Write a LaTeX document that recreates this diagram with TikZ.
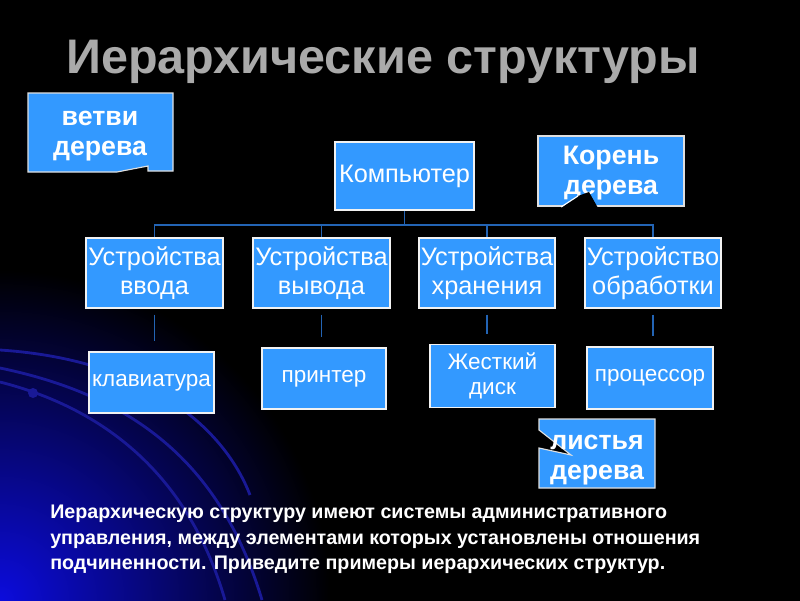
\documentclass[tikz,border=0pt]{standalone}
\usepackage{fontspec}
\setmainfont{Liberation Sans}
\usetikzlibrary{positioning,calc}
\definecolor{boxblue}{RGB}{51,153,255}
\definecolor{linkblue}{RGB}{35,100,180}
\definecolor{titlegray}{RGB}{170,170,170}
\definecolor{glowblue}{RGB}{12,12,220}
\definecolor{arcblue}{RGB}{25,25,150}
\newcommand{\pxu}{0.025cm}
\tikzset{
    chartbox/.style={draw=white!90!gray, line width=1.3pt, fill=boxblue, text=white,
        align=center, inner sep=1pt, font=\fontsize{18}{20.5}\selectfont},
    leafbox/.style={chartbox, font=\fontsize{16}{18}\selectfont},
    link/.style={draw=linkblue, line width=1.4pt},
    twig/.style={link, shorten <=4pt, shorten >=7pt},
    callout/.style={fill=boxblue, draw=white!75!gray, line width=0.8pt},
    callout text/.style={text=white, align=center, font=\bfseries\fontsize{19}{21.5}\selectfont}
}

\begin{document}
\begin{tikzpicture}[x=0.025cm,y=-0.025cm]
    \useasboundingbox (0,0) rectangle (800,600);

    % Background with the blue glow.
    \fill[black] (-5,-5) rectangle (805,605);
    \begin{scope}
        \clip (0,0) rectangle (800,600);
        \shade[inner color=glowblue, outer color=black] (0,600) circle (330);
        \draw[arcblue, line width=2pt] (0,350) .. controls (150,360) and (225,430) .. (250,495);
        \draw[arcblue, line width=2pt] (0,368) .. controls (130,395) and (220,460) .. (262,600);
        \draw[arcblue, line width=2pt] (0,382) .. controls (110,410) and (190,480) .. (225,600);
        \fill[arcblue] (33,393) circle (5);
    \end{scope}

    % Title.
    \node[text=titlegray, font=\bfseries\fontsize{34.5}{38}\selectfont] (title) at (383,62) {Иерархические структуры};

    % Tree nodes.
    \node[chartbox, minimum width=139*\pxu, minimum height=68*\pxu] (comp) at (404.5,176) {Компьютер};

    \node[chartbox, minimum width=137*\pxu, minimum height=70*\pxu] (in) at (154.5,273) {Устройства\\ввода};
    \node[chartbox, minimum width=137*\pxu, minimum height=70*\pxu] (out) at (321.5,273) {Устройства\\вывода};
    \node[chartbox, minimum width=136*\pxu, minimum height=70*\pxu] (store) at (487,273) {Устройства\\хранения};
    \node[chartbox, minimum width=134*\pxu, minimum height=70*\pxu] (proc) at (653,273) {Устройство\\обработки};

    \node[leafbox, minimum width=125*\pxu, minimum height=61*\pxu] (kbd) at (151.5,382.5) {клавиатура};
    \node[leafbox, minimum width=124*\pxu, minimum height=61*\pxu] (prn) at (324,378.5) {принтер};
    \node[leafbox, minimum width=125*\pxu, minimum height=63*\pxu] (hdd) at (492.5,376) {Жесткий\\диск};
    \node[leafbox, minimum width=126*\pxu, minimum height=62*\pxu] (cpu) at (650,378) {процессор};

    % Connectors.
    \coordinate (bus) at (404.5,225);
    \draw[link] (comp.south) -- (bus);
    \foreach \n in {in,out,store,proc}
        \draw[link] (bus) -| (\n.north);
    \foreach \a/\b in {in/kbd,out/prn,store/hdd,proc/cpu}
        \draw[twig] (\a.south) -- (\a.south |- \b.north);

    % Callout "branches".
    \filldraw[callout] (28,93) -- (173,93) -- (173,171) -- (148,171) -- (148,166)
        -- (117,172) -- (28,172) -- cycle;
    \node[callout text] (branches) at (100,136) {ветви\\дерева};

    % Callout "root".
    \filldraw[callout] (538,136) rectangle (684,206);
    \node[callout text] (root) at (611,173) {Корень\\дерева};
    \fill[black] (561,208) -- (578,196) -- (589,192) -- (598,208) -- cycle;
    \draw[white, line width=0.8pt] (561,207) -- (578,196);

    % Callout "leaves".
    \filldraw[callout] (539,419) -- (655,419) -- (655,488) -- (539,488) -- (539,448)
        -- (571,455) -- (539,430) -- cycle;
    \node[callout text] (leaves) at (597,460) {листья\\дерева};

    % Question below.
    \node[anchor=north west, text=white, align=left, inner sep=0pt,
        font=\bfseries\fontsize{14}{18}\selectfont] (note) at (50,505)
        {Иерархическую структуру имеют системы административного\\
         управления, между элементами которых установлены отношения\\
         подчиненности. Приведите примеры иерархических структур.};
\end{tikzpicture}
\end{document}
